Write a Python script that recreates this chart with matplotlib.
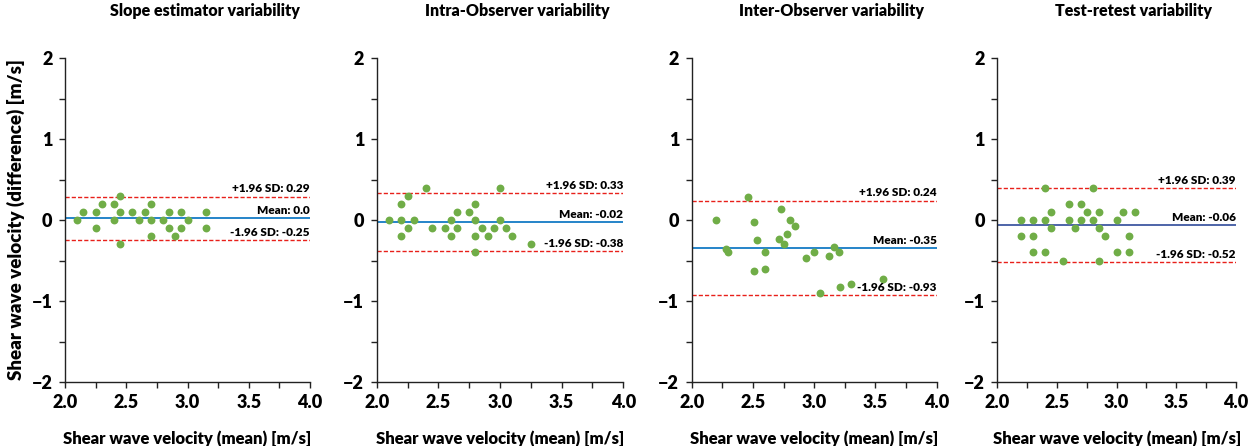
#!/usr/bin/env python3
"""
Bland-Altman plots of shear wave velocity: four variability sources side by side.
"""

import matplotlib
matplotlib.use("Agg")
import matplotlib.pyplot as plt
import matplotlib.transforms as mtransforms

plt.rcParams['font.family'] = ['Lato', 'DejaVu Sans']
plt.rcParams['font.weight'] = 'bold'

# ---- data ----
titles = ["Slope estimator variability", "Intra-Observer variability",
          "Inter-Observer variability", "Test-retest variability"]

slope_mean = [2.10, 2.15, 2.25, 2.25, 2.30, 2.40, 2.40, 2.45, 2.45, 2.45, 2.55, 2.60, 2.65,
              2.70, 2.70, 2.70, 2.80, 2.85, 2.85, 2.90, 2.95, 2.95, 3.00, 3.15, 3.15]
slope_diff = [0.0, 0.1, 0.1, -0.1, 0.2, 0.2, 0.0, 0.3, 0.1, -0.3, 0.1, 0.0, 0.1,
              0.2, 0.0, -0.2, 0.0, 0.1, -0.1, -0.2, 0.1, -0.1, 0.0, 0.1, -0.1]

intra_mean = [2.10, 2.20, 2.20, 2.20, 2.25, 2.25, 2.30, 2.40, 2.45, 2.55, 2.60, 2.60, 2.65, 2.65,
              2.75, 2.80, 2.80, 2.80, 2.80, 2.85, 2.90, 2.95, 3.00, 3.00, 3.05, 3.10, 3.25]
intra_diff = [0.0, 0.2, 0.0, -0.2, 0.3, -0.1, 0.0, 0.4, -0.1, -0.1, 0.0, -0.2, 0.1, -0.1,
              0.1, 0.2, 0.0, -0.2, -0.4, -0.1, -0.2, -0.1, 0.4, 0.0, -0.1, -0.2, -0.3]

inter_mean = [2.20, 2.28, 2.30, 2.46, 2.51, 2.53, 2.51, 2.60, 2.60, 2.71, 2.73, 2.75,
              2.78, 2.80, 2.84, 2.93, 3.00, 3.05, 3.12, 3.16, 3.20, 3.21, 3.30, 3.56]
inter_diff = [0.0, -0.36, -0.40, 0.28, -0.03, -0.25, -0.63, -0.40, -0.60, -0.23, 0.13, -0.30,
              -0.17, 0.0, -0.07, -0.47, -0.40, -0.90, -0.45, -0.33, -0.40, -0.83, -0.79, -0.73]

retest_mean = [2.20, 2.20, 2.30, 2.30, 2.30, 2.40, 2.40, 2.40, 2.45, 2.45, 2.55, 2.60, 2.60, 2.65, 2.70,
               2.70, 2.75, 2.80, 2.80, 2.85, 2.85, 2.85, 2.90, 3.00, 3.00, 3.05, 3.10, 3.10, 3.15]
retest_diff = [0.0, -0.2, 0.0, -0.2, -0.4, 0.4, 0.0, -0.4, 0.1, -0.1, -0.5, 0.2, 0.0, -0.1, 0.2,
               0.0, 0.1, 0.4, 0.0, 0.1, -0.1, -0.5, -0.2, 0.0, -0.4, 0.1, -0.2, -0.4, 0.1]

bias = [0.02, -0.02, -0.35, -0.06]
bias_labels = ["Mean: 0.0", "Mean: -0.02", "Mean: -0.35", "Mean: -0.06"]
upper_loa = [0.29, 0.33, 0.24, 0.39]
lower_loa = [-0.25, -0.38, -0.93, -0.52]

series_x = [slope_mean, intra_mean, inter_mean, retest_mean]
series_y = [slope_diff, intra_diff, inter_diff, retest_diff]

# ---- layout (pixel geometry of the reference) ----
W, H = 1248, 446
ax_left_px = [65, 376.7, 691.7, 997.3]
ax_width_px = [245, 246.6, 245, 238.7]
ax_top_px, ax_bot_px = 58, 382
mean_colors = ['#0070C0', '#0070C0', '#0070C0', '#2F4A9A']

fig = plt.figure(figsize=(W / 100, H / 100), dpi=100)


def draw_panel(i):
    """One Bland-Altman panel."""
    ax = fig.add_axes([ax_left_px[i] / W, (H - ax_bot_px) / H,
                       ax_width_px[i] / W, (ax_bot_px - ax_top_px) / H])
    ax.set_xlim(2.0, 4.0)
    ax.set_ylim(-2, 2)
    ax.spines['top'].set_visible(False)
    ax.spines['right'].set_visible(False)
    for s in ('left', 'bottom'):
        ax.spines[s].set_linewidth(1.0)
        ax.spines[s].set_color('#222222')

    ax.set_xticks([2.0, 2.5, 3.0, 3.5, 4.0])
    ax.set_xticklabels(['2.0', '2.5', '3.0', '3.5', '4.0'])
    ax.set_xticks([2.25, 2.75, 3.25, 3.75], minor=True)
    ax.set_yticks([-2, -1, 0, 1, 2])
    ax.set_yticks([-1.5, -0.5, 0.5, 1.5], minor=True)
    ax.tick_params(which='both', direction='out', length=4, width=1.0, color='#222222')
    ax.tick_params(axis='both', labelsize=13, pad=5)
    for lbl in ax.get_xticklabels() + ax.get_yticklabels():
        lbl.set_fontweight('heavy')

    # limits of agreement and bias
    ax.axhline(upper_loa[i], color='#E8201A', lw=1.0, dashes=(3, 1.5))
    ax.axhline(lower_loa[i], color='#E8201A', lw=1.0, dashes=(3, 1.5))
    ax.axhline(bias[i], color=mean_colors[i], lw=1.2)

    ax.scatter(series_x[i], series_y[i], s=32, color='#70AD47', zorder=3, linewidths=0)

    trans = mtransforms.blended_transform_factory(ax.transAxes, ax.transData)
    labels = [(upper_loa[i], f"+1.96 SD: {upper_loa[i]:.2f}"),
              (bias[i], bias_labels[i]),
              (lower_loa[i], f"-1.96 SD: {lower_loa[i]:.2f}")]
    for yv, txt in labels:
        ax.annotate(txt, xy=(1.0, yv), xycoords=trans, xytext=(0, 1.5),
                    textcoords='offset points', ha='right', va='bottom',
                    fontsize=8.5, fontweight='heavy')

    ax.set_title(titles[i], fontsize=11.5, fontweight='heavy', pad=30, x=0.57)
    ax.set_xlabel("Shear wave velocity (mean) [m/s]", fontsize=12, fontweight='heavy', labelpad=14)
    if i == 0:
        ax.set_ylabel("Shear wave velocity (difference) [m/s]", fontsize=13.5,
                      fontweight='heavy', labelpad=5)
    return ax


for k in range(4):
    draw_panel(k)

fig.savefig("out.png", dpi=100)
